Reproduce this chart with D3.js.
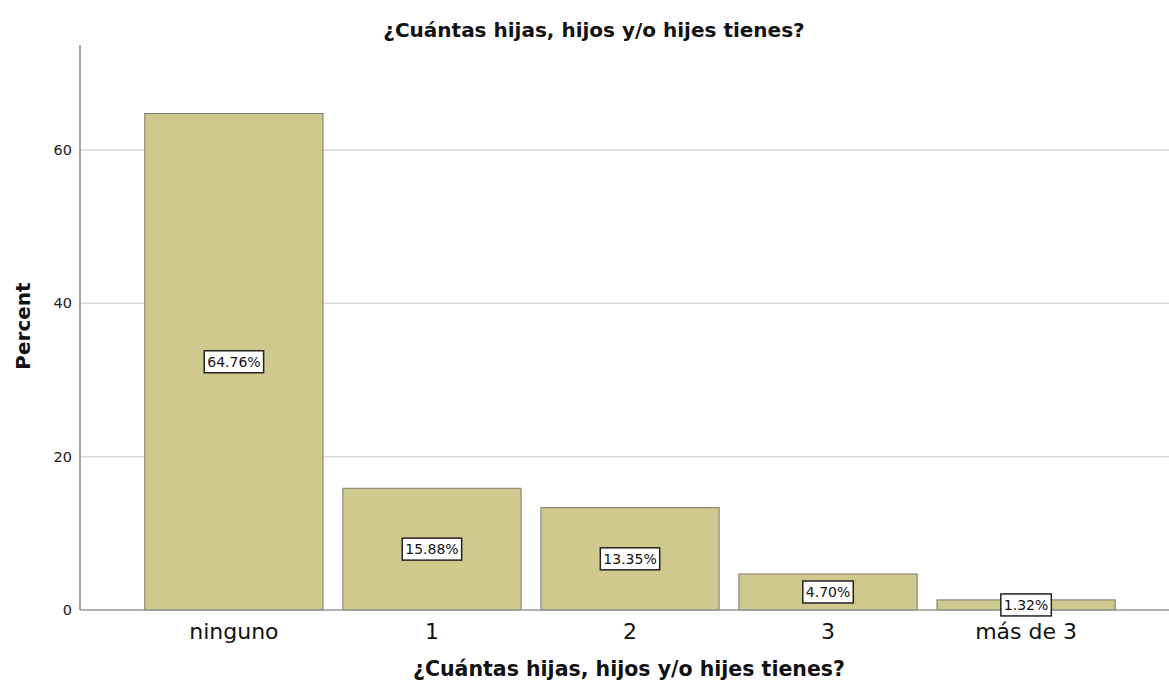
<!DOCTYPE html>
<html><head><meta charset="utf-8">
<script src="https://cdn.jsdelivr.net/npm/d3@7"></script>
<style>body{margin:0;background:#fff}svg{display:block}</style>
</head><body><svg id="c" width="1169" height="688"></svg>
<script>
const categories = ["ninguno", "1", "2", "3", "más de 3"];
const percents = [64.76, 15.88, 13.35, 4.70, 1.32];
const yTicks = [0, 20, 40, 60];
const title = "¿Cuántas hijas, hijos y/o hijes tienes?";
const xTitle = "¿Cuántas hijas, hijos y/o hijes tienes?";
const yTitle = "Percent";

const svg = d3.select("#c");
const font = "'DejaVu Sans', sans-serif";
const x = d3.scaleBand().domain(categories).range([125, 1135]).paddingInner(0.1).paddingOuter(0.1);
const y = d3.scaleLinear().domain([0, 73.7]).range([610, 45]);

// gridlines
svg.append("g").selectAll("line").data(yTicks.filter(d => d > 0)).join("line")
  .attr("x1", 80).attr("x2", 1169).attr("y1", d => y(d)).attr("y2", d => y(d))
  .attr("stroke", "#d6d6d6").attr("stroke-width", 1.5);

// bars
svg.append("g").selectAll("rect").data(categories).join("rect")
  .attr("x", d => x(d)).attr("width", x.bandwidth())
  .attr("y", (d, i) => y(percents[i])).attr("height", (d, i) => y(0) - y(percents[i]))
  .attr("fill", "#cfc98e").attr("stroke", "#7a7a6a").attr("stroke-width", 1);

// baseline
svg.append("line").attr("x1", 80).attr("x2", 1169).attr("y1", y(0)).attr("y2", y(0))
  .attr("stroke", "#999").attr("stroke-width", 1.5);

// y axis
const yAxis = d3.axisLeft(y).tickValues(yTicks).tickSize(0).tickPadding(8);
const ga = svg.append("g").attr("transform", "translate(80,0)").call(yAxis);
ga.select(".domain").remove();
ga.selectAll("text").attr("font-family", font).attr("font-size", 14.5).attr("fill", "#222");
svg.append("line").attr("x1", 80).attr("x2", 80).attr("y1", 45).attr("y2", y(0))
  .attr("stroke", "#888").attr("stroke-width", 1.5);

// x axis
const xAxis = d3.axisBottom(x).tickSize(0).tickPadding(13);
const gx = svg.append("g").attr("transform", `translate(0,${y(0)})`).call(xAxis);
gx.select(".domain").remove();
gx.selectAll("text").attr("font-family", font).attr("font-size", 22).attr("fill", "#111");

// labels
const lab = svg.append("g").selectAll("g").data(categories).join("g")
  .attr("transform", (d, i) => `translate(${x(d) + x.bandwidth() / 2},${(y(0) + y(percents[i])) / 2})`);
lab.append("text").text((d, i) => percents[i].toFixed(2) + "%")
  .attr("text-anchor", "middle").attr("dy", "0.36em")
  .attr("font-family", font).attr("font-size", 14).attr("fill", "#111");
lab.each(function() {
  const g = d3.select(this);
  const b = g.select("text").node().getBBox();
  g.insert("rect", "text").attr("x", b.x - 3).attr("y", -11).attr("width", b.width + 6).attr("height", 22)
    .attr("fill", "#fff").attr("stroke", "#222").attr("stroke-width", 1.5);
});

// titles
svg.append("text").attr("x", 594).attr("y", 37).attr("text-anchor", "middle")
  .attr("font-family", font).attr("font-weight", "bold").attr("font-size", 20).attr("fill", "#111").text(title);
svg.append("text").attr("x", 629).attr("y", 676).attr("text-anchor", "middle")
  .attr("font-family", font).attr("font-weight", "bold").attr("font-size", 20.5).attr("fill", "#111").text(xTitle);
svg.append("text").attr("transform", "translate(30,326) rotate(-90)").attr("text-anchor", "middle")
  .attr("font-family", font).attr("font-weight", "bold").attr("font-size", 20).attr("fill", "#111").text(yTitle);
</script></body></html>
